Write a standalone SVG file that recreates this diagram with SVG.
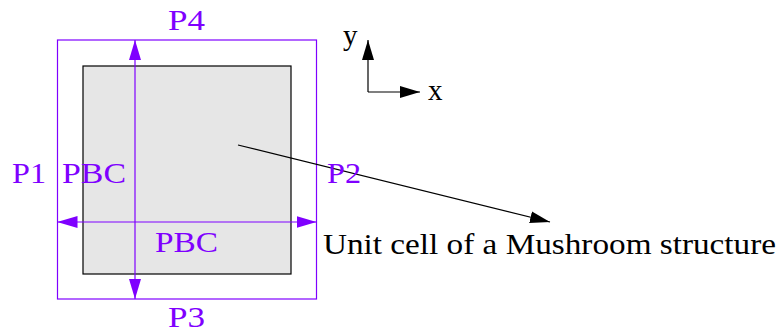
<svg xmlns="http://www.w3.org/2000/svg" width="779" height="333" viewBox="0 0 779 333">
<style>
.p{fill:none;stroke:#7f00ff;stroke-width:1.2}
.pt{fill:#7f00ff;font-family:"Liberation Serif",serif;font-size:29px}
.bt{fill:#000;font-family:"Liberation Serif",serif;font-size:29px}
.k{fill:none;stroke:#000;stroke-width:1.2}
</style>
<defs>
<marker id="pa" viewBox="0 0 20 12" refX="20" refY="6" markerWidth="20" markerHeight="12" markerUnits="userSpaceOnUse" orient="auto-start-reverse"><path d="M0,0 L20,6 L0,12 Z" fill="#7f00ff"/></marker>
<marker id="ka" viewBox="0 0 20 12" refX="20" refY="6" markerWidth="20" markerHeight="12" markerUnits="userSpaceOnUse" orient="auto"><path d="M0,0 L20,6 L0,12 Z" fill="#000"/></marker>
</defs>
<g id="cell">
<rect x="83" y="66" width="208" height="208" fill="#e6e6e6" stroke="#000" stroke-width="1.2"/>
</g>
<g id="boundary">
<rect class="p" x="57.5" y="40" width="259" height="259"/>
</g>
<g id="connectors">
<line class="p" x1="135" y1="40" x2="135" y2="299" marker-start="url(#pa)" marker-end="url(#pa)"/>
<line class="p" x1="57.5" y1="222" x2="316.5" y2="222" marker-start="url(#pa)" marker-end="url(#pa)"/>
<line class="k" x1="238" y1="145" x2="550" y2="222" marker-end="url(#ka)"/>
<line class="k" x1="368" y1="92" x2="368" y2="40" marker-end="url(#ka)"/>
<line class="k" x1="368" y1="92" x2="420" y2="92" marker-end="url(#ka)"/>
</g>
<g id="labels">
<text class="pt" x="168" y="30" textLength="37" lengthAdjust="spacingAndGlyphs">P4</text>
<text class="pt" x="168" y="327" textLength="37" lengthAdjust="spacingAndGlyphs">P3</text>
<text class="pt" x="12" y="183" textLength="34" lengthAdjust="spacingAndGlyphs">P1</text>
<text class="pt" x="62" y="183" textLength="64" lengthAdjust="spacingAndGlyphs">PBC</text>
<text class="pt" x="327" y="183" textLength="34" lengthAdjust="spacingAndGlyphs">P2</text>
<text class="pt" x="155" y="252" textLength="63" lengthAdjust="spacingAndGlyphs">PBC</text>
<text class="bt" x="343" y="45">y</text>
<text class="bt" x="428" y="100">x</text>
<text class="bt" x="323" y="254" textLength="453" lengthAdjust="spacingAndGlyphs">Unit cell of a Mushroom structure</text>
</g>
</svg>
